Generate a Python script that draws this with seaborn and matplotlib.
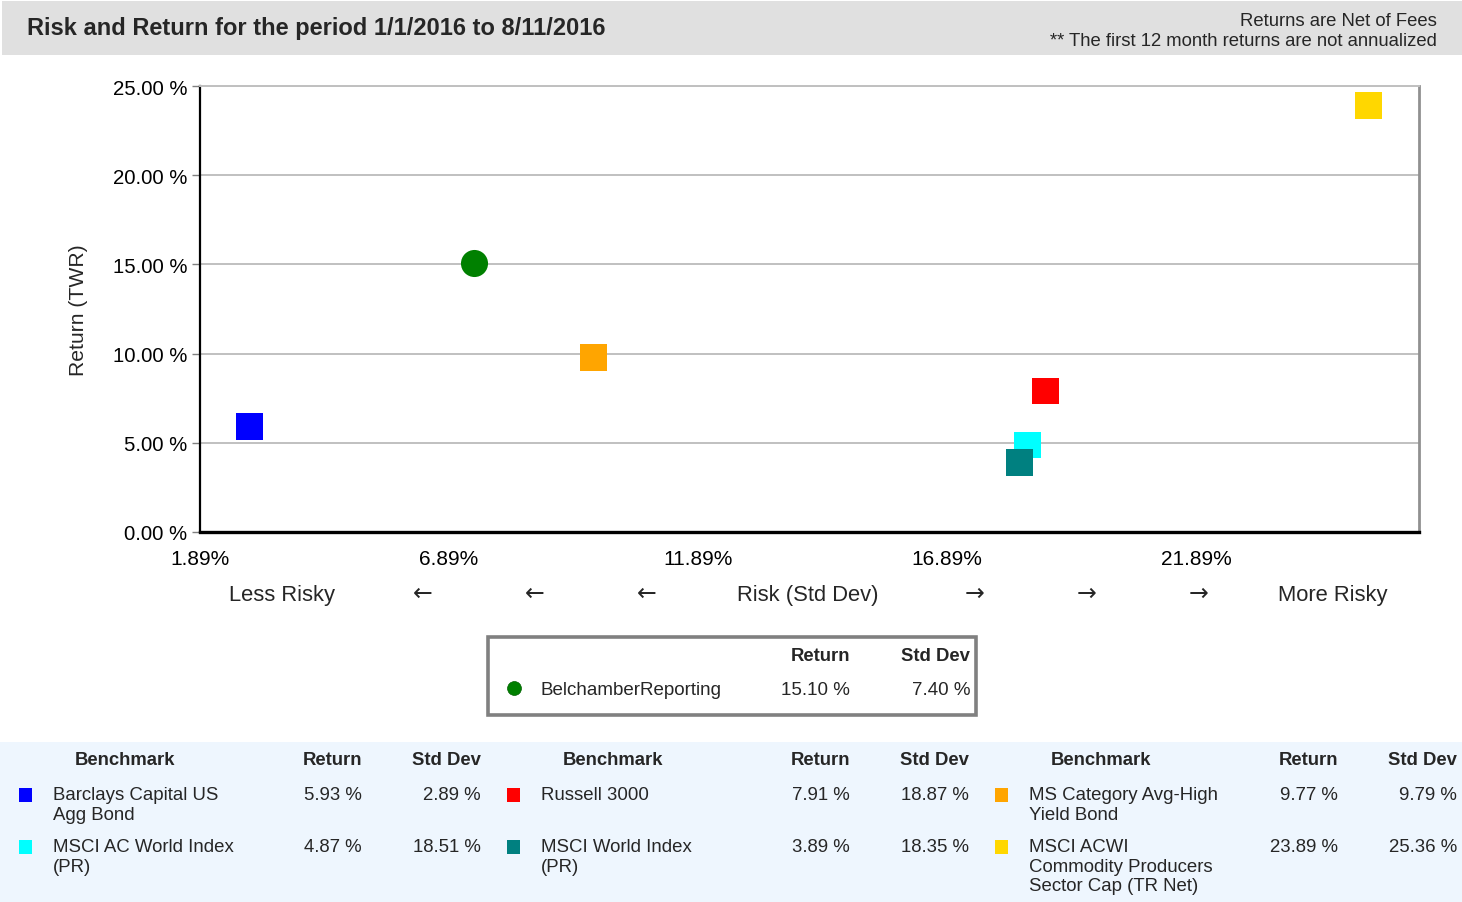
import numpy as np
import pandas as pd
import seaborn as sns
import matplotlib.pyplot as plt
from matplotlib.patches import Rectangle
from matplotlib.lines import Line2D

# data
portfolio_name = "BelchamberReporting"
portfolio_return = 15.10
portfolio_std = 7.40

bench_names = ["Barclays Capital US\nAgg Bond", "Russell 3000", "MS Category Avg-High\nYield Bond",
               "MSCI AC World Index\n(PR)", "MSCI World Index\n(PR)",
               "MSCI ACWI\nCommodity Producers\nSector Cap (TR Net)"]
bench_returns = [5.93, 7.91, 9.77, 4.87, 3.89, 23.89]
bench_std = [2.89, 18.87, 9.79, 18.51, 18.35, 25.36]
bench_colors = ["#0000ff", "#ff0000", "#ffa500", "#00ffff", "#008080", "#ffd700"]

y_ticks = [0, 5, 10, 15, 20, 25]
x_ticks = [1.89, 6.89, 11.89, 16.89, 21.89]

W, H = 1462, 903

sns.set_theme(style="white")
plt.rcParams['font.family'] = ['Liberation Sans', 'DejaVu Sans']


def fx(x):
    return x / W


def fy(y):
    return 1 - y / H


fig = plt.figure(figsize=(W / 100, H / 100), dpi=100)
fig.patch.set_facecolor("white")

# header band
fig.add_artist(Rectangle((fx(2), fy(56)), fx(1460), 54 / H, transform=fig.transFigure,
                         facecolor="#e0e0e0", edgecolor="none", zorder=0))
fig.text(fx(27), fy(29), "Risk and Return for the period 1/1/2016 to 8/11/2016",
         fontsize=17, fontweight="bold", ha="left", va="center")
fig.text(fx(1437), fy(21), "Returns are Net of Fees", fontsize=13.3, ha="right", va="center")
fig.text(fx(1437), fy(42), "** The first 12 month returns are not annualized",
         fontsize=13.3, ha="right", va="center")

# plot area
ax = fig.add_axes([fx(200), fy(533), (1419 - 200) / W, (533 - 87) / H])
df = pd.DataFrame({"name": bench_names, "std": bench_std, "ret": bench_returns})
sns.scatterplot(data=df, x="std", y="ret", hue="name", palette=dict(zip(bench_names, bench_colors)),
                marker="s", s=370, linewidth=0, legend=False, ax=ax, zorder=3)
sns.scatterplot(x=[portfolio_std], y=[portfolio_return], color="#008000", marker="o",
                s=380, linewidth=0, legend=False, ax=ax, zorder=4)

ax.set_xlim(x_ticks[0], x_ticks[0] + 24.48)
ax.set_ylim(0, 25)
ax.set_yticks(y_ticks)
ax.set_yticklabels([f"{v:.2f} %" for v in y_ticks])
ax.set_xticks(x_ticks)
ax.set_xticklabels([f"{v:.2f}%" for v in x_ticks])
ax.set_xlabel("")
ax.set_ylabel("")
ax.grid(axis="y", color="#c0c0c0", linewidth=1.4)
ax.set_axisbelow(True)
ax.tick_params(axis="y", which="both", left=True, length=6, width=1, color="#808080",
               pad=3, labelsize=14.7, labelcolor="black")
ax.tick_params(axis="x", length=0, pad=12, labelsize=15, labelcolor="black")
ax.spines["left"].set_color("black")
ax.spines["left"].set_linewidth(1.6)
ax.spines["bottom"].set_color("black")
ax.spines["bottom"].set_linewidth(2.4)
ax.spines["right"].set_color("#909090")
ax.spines["right"].set_linewidth(2.0)
ax.spines["top"].set_color("#c0c0c0")
ax.spines["top"].set_linewidth(1.4)

fig.text(fx(78), fy(310), "Return (TWR)", rotation=90, fontsize=15.2, ha="center", va="center")

# risk direction row
words = [(282, "Less Risky"), (808, "Risk (Std Dev)"), (1333, "More Risky")]
for x, t in words:
    fig.text(fx(x), fy(596), t, fontsize=15.8, ha="center", va="center")
arrows = [(423, "←"), (535, "←"), (647, "←"), (975, "→"), (1087, "→"), (1199, "→")]
for x, t in arrows:
    fig.text(fx(x), fy(594), t, fontsize=17, ha="center", va="center", family=["DejaVu Sans"])

# portfolio legend box
fig.add_artist(Rectangle((fx(488), fy(716)), 488 / W, 78 / H, transform=fig.transFigure,
                         facecolor="white", edgecolor="#808080", linewidth=2.6, zorder=1))
fig.text(fx(850), fy(657), "Return", fontsize=13.3, fontweight="bold", ha="right", va="center")
fig.text(fx(970), fy(657), "Std Dev", fontsize=13.3, fontweight="bold", ha="right", va="center")
fig.add_artist(Line2D([fx(514)], [fy(689)], marker="o", markersize=10, color="#008000",
                      markeredgecolor="#006000", markeredgewidth=0.5, transform=fig.transFigure))
fig.text(fx(541), fy(691), portfolio_name, fontsize=13.5, ha="left", va="center")
fig.text(fx(850), fy(691), f"{portfolio_return:.2f} %", fontsize=13.5, ha="right", va="center")
fig.text(fx(970), fy(691), f"{portfolio_std:.2f} %", fontsize=13.5, ha="right", va="center")

# benchmark table
fig.add_artist(Rectangle((0, 0), 1, (903 - 743) / H, transform=fig.transFigure,
                         facecolor="#eef6fe", edgecolor="none", zorder=0))
for g in range(3):
    off = g * 488
    fig.text(fx(125 + off), fy(761), "Benchmark", fontsize=13.3, fontweight="bold", ha="center", va="center")
    fig.text(fx(362 + off), fy(761), "Return", fontsize=13.3, fontweight="bold", ha="right", va="center")
    fig.text(fx(481 + off), fy(761), "Std Dev", fontsize=13.3, fontweight="bold", ha="right", va="center")

for i, (n, r, s, c) in enumerate(zip(bench_names, bench_returns, bench_std, bench_colors)):
    off = (i % 3) * 488
    y0 = 794 + (i // 3) * 52
    fig.add_artist(Rectangle((fx(19 + off), fy(y0 + 9)), 13 / W, 14 / H, transform=fig.transFigure,
                             facecolor=c, edgecolor="none"))
    fig.text(fx(53 + off), fy(y0 - 7), n, fontsize=13.4, ha="left", va="top", linespacing=1.2)
    fig.text(fx(362 + off), fy(y0 + 2), f"{r:.2f} %", fontsize=13.4, ha="right", va="center")
    fig.text(fx(481 + off), fy(y0 + 2), f"{s:.2f} %", fontsize=13.4, ha="right", va="center")

fig.savefig("out.png", dpi=100)
